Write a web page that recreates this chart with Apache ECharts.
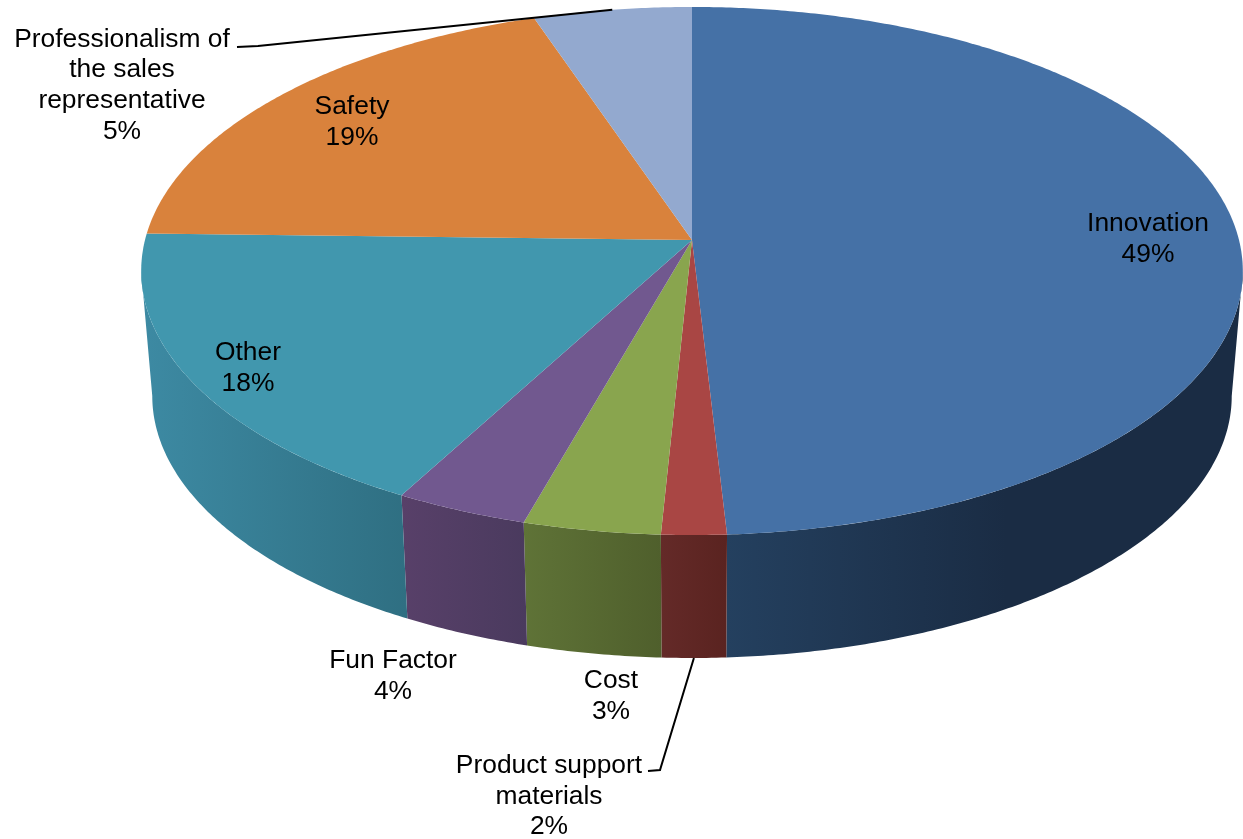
<!DOCTYPE html>
<html>
<head>
<meta charset="utf-8">
<title>Pie chart</title>
<script src="https://cdn.jsdelivr.net/npm/echarts@6/dist/echarts.min.js"></script>
<style>
  html, body { margin: 0; padding: 0; background: #fff; }
  #chart { width: 1243px; height: 839px; }
</style>
</head>
<body>
<div id="chart"></div>
<script>
// clockwise from 12 o'clock
const categories = ['Innovation', 'Product support\nmaterials', 'Cost', 'Fun Factor', 'Other', 'Safety', 'Professionalism of\nthe sales\nrepresentative']
// slice sizes, the printed labels are rounded
const sliceShares = [49.1, 1.7, 3.6, 3.5, 17.5, 19.4, 5.2]
const percentLabels = [49, 2, 3, 4, 18, 19, 5]

const topColors = ['#4571a6', '#a94644', '#89a54e', '#71588f', '#4197ae', '#d9823c', '#93a9cf']
const wallFrom = ['#24405f', '#642a28', '#5f7337', '#584069', '#3d8aa3']
const wallTo = ['#1a2c44', '#5a2320', '#4f5f2c', '#4a3a5e', '#2f6f82']

// label centres, px
const labelX = [1148, 549, 611, 393, 248, 352, 122]
const labelY = [239, 796.5, 696, 676.5, 368.5, 122.5, 85.5]

// perspective projection of the disc: top face and bottom rim
const topFace = { x: 692, y: 240, a: 547, b: 260.4 }
const bottomRim = { x: 692, y: 365.2, a: 536, b: 258.4 }
const tilt = -0.1174
// the walls are only seen between the two points where the outline turns back
const wallStart = Math.acos(tilt) * 180 / Math.PI
const wallEnd = 360 - wallStart

const project = (layer, deg) => {
  const rad = deg * Math.PI / 180
  const u = Math.sin(rad)
  const v = -Math.cos(rad)
  const d = 1 + tilt * v
  return [layer.x + layer.a * u / d, layer.y + layer.b * v / d]
}

const arc = (layer, from, to) => {
  const pts = []
  const n = Math.max(2, Math.ceil(Math.abs(to - from) * 2))
  for (let i = 0; i <= n; i++) {
    pts.push(project(layer, from + (to - from) * i / n))
  }
  return pts
}

const total = sliceShares.reduce((sum, v) => sum + v, 0)
let running = 0
const sliceData = categories.map((name, i) => {
  const start = running / total * 360
  running += sliceShares[i]
  return { name, value: [start, running / total * 360, i] }
})

const textStyle = (text, x, y) => ({
  text, x, y,
  align: 'center',
  verticalAlign: 'middle',
  fill: '#000',
  fontFamily: '"Liberation Sans", Arial, sans-serif',
  fontSize: 26.4,
  lineHeight: 30.7
})

const leader = (points) => ({
  type: 'polyline',
  z2: 3,
  shape: { points },
  style: { fill: 'none', stroke: '#000', lineWidth: 2 }
})

const renderSlice = (params, api) => {
  const start = api.value(0)
  const end = api.value(1)
  const i = api.value(2)
  const mid = (start + end) / 2
  const children = []

  const wallA = Math.max(start, wallStart)
  const wallB = Math.min(end, wallEnd)
  if (wallA < wallB) {
    const outer = arc(topFace, wallA, wallB)
    const inner = arc(bottomRim, wallA, wallB).reverse()
    const xs = outer.concat(inner).map(p => p[0])
    const minX = Math.min(...xs)
    const maxX = Math.max(...xs)
    children.push({
      type: 'polygon',
      z2: 1,
      shape: { points: outer.concat(inner) },
      style: {
        fill: {
          type: 'linear',
          global: true,
          x: minX,
          y: 0,
          x2: Math.min(maxX, minX + 280),
          y2: 0,
          colorStops: [
            { offset: 0, color: wallFrom[i] },
            { offset: 1, color: wallTo[i] }
          ]
        }
      }
    })
  }

  children.push({
    type: 'polygon',
    z2: 2,
    shape: { points: [[topFace.x, topFace.y]].concat(arc(topFace, start, end)) },
    style: { fill: topColors[i] }
  })

  if (categories[i].startsWith('Professionalism')) {
    children.push(leader([project(topFace, mid), [258, 46], [237, 47]]))
  }
  if (categories[i].startsWith('Product')) {
    children.push(leader([project(bottomRim, mid), [660, 770], [648, 771]]))
  }

  children.push({
    type: 'text',
    z2: 4,
    style: textStyle(categories[i] + '\n' + percentLabels[i] + '%', labelX[i], labelY[i])
  })

  return { type: 'group', children }
}

const chart = echarts.init(document.getElementById('chart'))
chart.setOption({
  animation: false,
  backgroundColor: '#fff',
  tooltip: { show: false },
  series: [{
    type: 'custom',
    coordinateSystem: 'none',
    silent: true,
    renderItem: renderSlice,
    data: sliceData
  }]
})
</script>
</body>
</html>
